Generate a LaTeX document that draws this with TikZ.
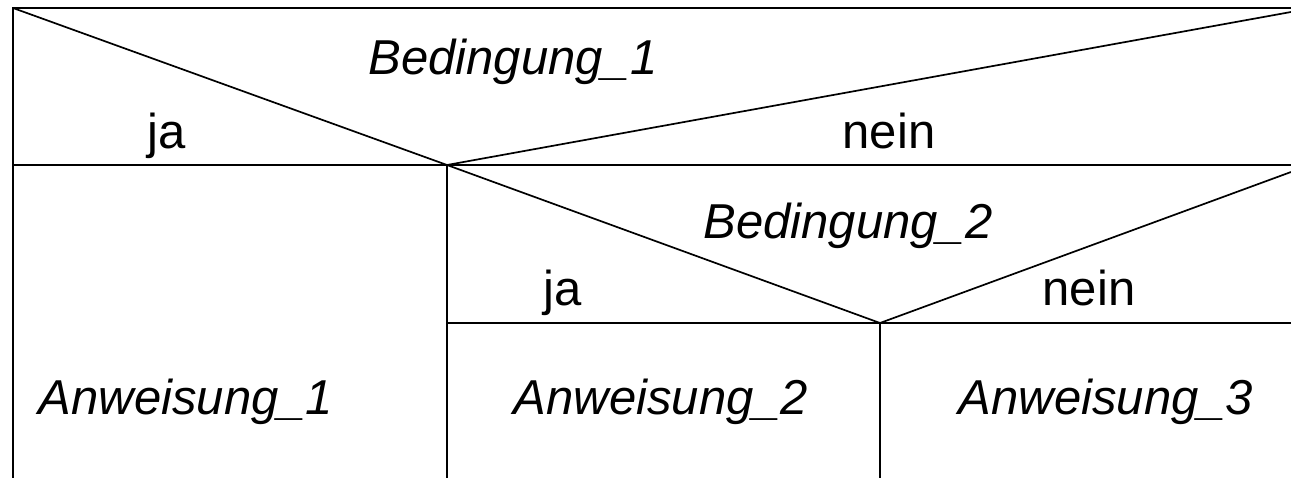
\documentclass[tikz,border=0pt]{standalone}
\usepackage{fontspec}
\setmainfont{Liberation Sans}

\begin{document}
\begin{tikzpicture}[
        x=1pt, y=-1pt,
        line/.style={line width=1.7pt},
        label/.style={anchor=base, inner sep=0pt, font=\fontsize{49}{58}\selectfont},
        cond/.style={label, font=\fontsize{49}{58}\selectfont\itshape}
    ]
        \useasboundingbox (0,0) rectangle (1291,478);

        % Corner points (absolute positioning)
        \coordinate (tl) at (13, 8);
        \coordinate (tr) at (1291, 8);
        \coordinate (tr1) at (1291, 12);
        \coordinate (l1) at (13, 165);
        \coordinate (apex1) at (447, 165);
        \coordinate (r1) at (1291, 165);
        \coordinate (tr2) at (1291, 172);
        \coordinate (m2) at (447, 323);
        \coordinate (apex2) at (880, 323);
        \coordinate (r2) at (1291, 323);
        \coordinate (bl) at (13, 478);
        \coordinate (b1) at (447, 478);
        \coordinate (b2) at (880, 478);

        % Texts
        \node[cond] (cond1) at (513, 75) {Bedingung\_1};
        \node[label] (yes1) at (167, 149) {ja};
        \node[label] (no1) at (889, 149) {nein};
        \node[cond] (cond2) at (848, 239) {Bedingung\_2};
        \node[label] (yes2) at (563, 306) {ja};
        \node[label] (no2) at (1089, 306) {nein};
        \node[cond] (stmt1) at (186, 414) {Anweisung\_1};
        \node[cond] (stmt2) at (661, 414) {Anweisung\_2};
        \node[cond] (stmt3) at (1106, 414) {Anweisung\_3};

        % Lines
        \draw[line] (bl) -- (tl) -- (tr);
        \draw[line] (tl) -- (apex1) -- (tr1);
        \draw[line] (l1) -- (r1);
        \draw[line] (apex1) -- (b1);
        \draw[line] (apex1) -- (apex2) -- (tr2);
        \draw[line] (m2) -- (r2);
        \draw[line] (apex2) -- (b2);

    \end{tikzpicture}
\end{document}
